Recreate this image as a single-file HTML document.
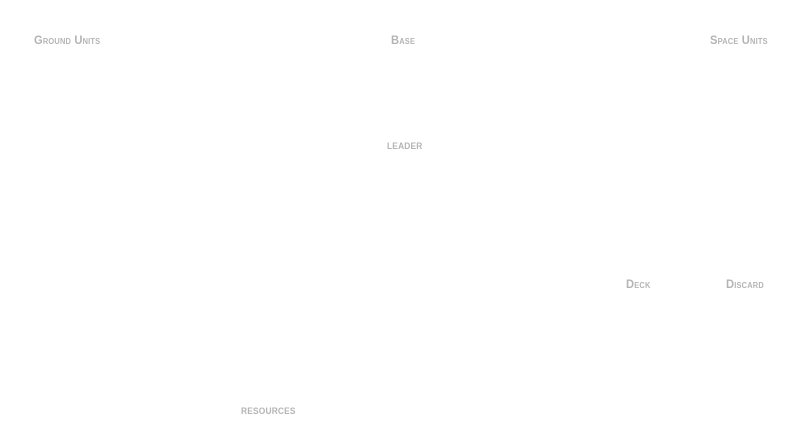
<!DOCTYPE html>
<html><head><meta charset="utf-8"><style>
html,body{margin:0;padding:0;background:#fff;width:800px;height:448px;overflow:hidden}
.t{position:absolute;font-family:"Liberation Sans",sans-serif;font-weight:bold;color:#b4b4b4;font-size:12px;line-height:12px;font-variant:small-caps;transform:scaleX(0.93);transform-origin:left top;white-space:nowrap;letter-spacing:0.2px}
.l{font-size:13px;line-height:13px}
</style></head><body>
<div class="t" style="left:34px;top:34px">Ground Units</div>
<div class="t" style="left:391px;top:34px">Base</div>
<div class="t" style="left:710px;top:34px">Space Units</div>
<div class="t l" style="left:387px;top:138px">leader</div>
<div class="t" style="left:626px;top:278px">Deck</div>
<div class="t" style="left:726px;top:278px">Discard</div>
<div class="t l" style="left:241px;top:403px">resources</div>
</body></html>
